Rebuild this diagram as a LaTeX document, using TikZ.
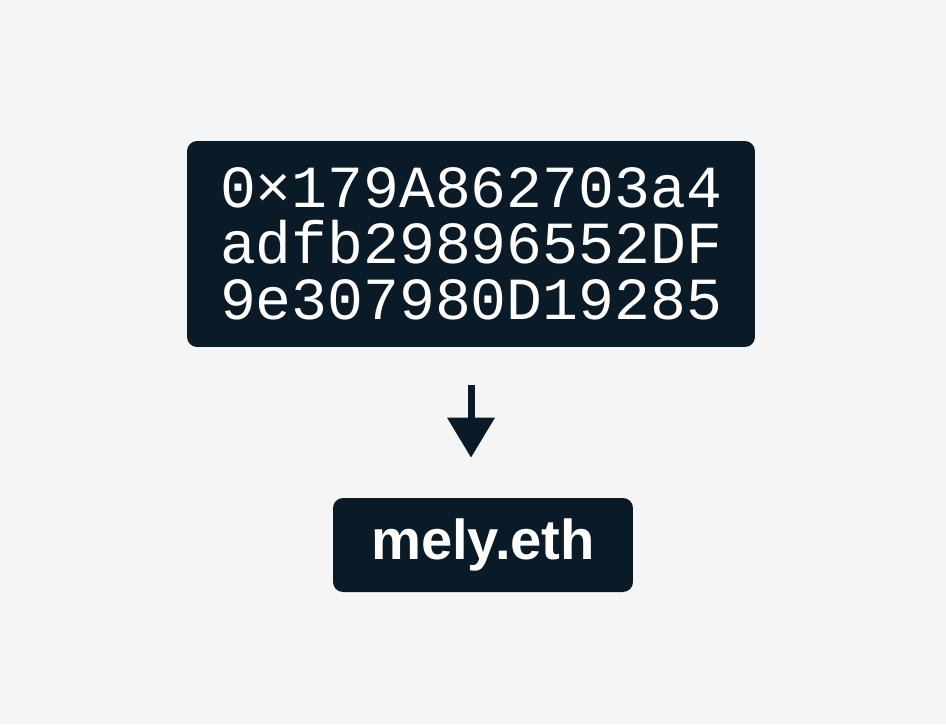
\documentclass[tikz,border=0pt]{standalone}
\usepackage{fontspec}
\setmonofont{Liberation Mono}
\newfontfamily\ensfont{Liberation Sans}
\usetikzlibrary{arrows.meta}
\definecolor{bgrey}{RGB}{245,245,245}
\definecolor{navy}{RGB}{10,26,38}

\begin{document}
\begin{tikzpicture}[line cap=round,line join=round,x=0.02cm,y=-0.02cm,
	box/.style={fill=navy, rounded corners=0.2cm, text=white, inner sep=0pt}]
	\fill[bgrey] (0,0) rectangle (946,724);
	% address
	\node[box, minimum width=11.36cm, minimum height=4.12cm, align=center, font=\ttfamily\fontsize{34}{31.9}\selectfont] (addr) at (471,244) {0×179A862703a4\\adfb29896552DF\\9e307980D19285};
	% ens name
	\node[box, minimum width=6cm, minimum height=1.88cm, font=\ensfont\bfseries\fontsize{32}{36}\selectfont] (ens) at (483,545) {\raisebox{-0.05cm}{mely.eth}};
	\draw[-{Triangle[width=0.92cm,length=0.8cm]}, line width=0.14cm, navy, line cap=butt, shorten <=0.76cm, shorten >=0.8cm] (addr.south) -- (addr.south |- ens.north);
\end{tikzpicture}
\end{document}
